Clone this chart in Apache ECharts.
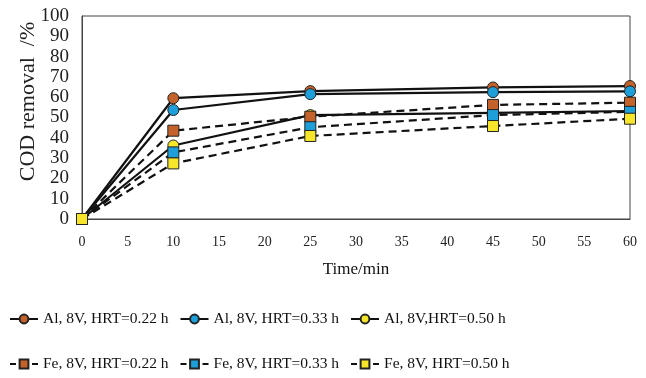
<!DOCTYPE html>
<html>
<head>
<meta charset="utf-8">
<script src="https://cdn.jsdelivr.net/npm/echarts@6/dist/echarts.min.js"></script>
<style>
  html, body { margin: 0; padding: 0; background: #fff; }
  #chart { width: 646px; height: 378px; }
</style>
</head>
<body>
<div id="chart"></div>
<script>
// Sampling times (min)
const times = [0, 10, 25, 45, 60];

// COD removal (%) for each electrode / retention time
const alHrt022 = [0, 59.5, 63, 64.8, 65.5];
const alHrt033 = [0, 53.7, 61.5, 62.5, 62.9];
const alHrt050 = [0, 36.2, 51.2, 52.3, 53.2];
const feHrt022 = [0, 43.5, 50.4, 56.2, 57.3];
const feHrt033 = [0, 32.8, 45.2, 51.2, 52.8];
const feHrt050 = [0, 27.4, 40.9, 45.8, 49.4];

const seriesNames = [
  'Al, 8V, HRT=0.22 h', 'Al, 8V, HRT=0.33 h', 'Al, 8V,HRT=0.50 h',
  'Fe, 8V, HRT=0.22 h', 'Fe, 8V, HRT=0.33 h', 'Fe, 8V, HRT=0.50 h'
];

const ORANGE = '#c4622b';
const BLUE = '#1f9fd9';
const YELLOW = '#f6e52a';
const FONT = '"Liberation Serif", "Times New Roman", serif';

function pairs(vals) {
  return times.map((t, i) => [t, vals[i]]);
}

function makeSeries(name, vals, color, dashed) {
  return {
    name: name,
    type: 'line',
    data: pairs(vals),
    symbol: dashed ? 'rect' : 'circle',
    symbolSize: 11,
    lineStyle: {
      color: '#111',
      width: 2.2,
      type: dashed ? [8, 5] : 'solid'
    },
    itemStyle: {
      color: color,
      borderColor: '#222',
      borderWidth: 1
    },
    emphasis: { disabled: true },
    animation: false
  };
}

const chart = echarts.init(document.getElementById('chart'), null, { renderer: 'canvas' });

const legendText = { fontFamily: FONT, fontSize: 15.5, color: '#111' };

chart.setOption({
  backgroundColor: '#fff',
  animation: false,
  grid: {
    left: 82, right: 16, top: 16, bottom: 159,
    show: true, borderColor: '#444', borderWidth: 1
  },
  legend: [
    {
      data: seriesNames.slice(0, 3),
      left: 4, top: 306,
      itemWidth: 28, itemHeight: 11, itemGap: 11,
      textStyle: legendText
    },
    {
      data: seriesNames.slice(3),
      left: 4, top: 351,
      itemWidth: 28, itemHeight: 11, itemGap: 11,
      lineStyle: { type: [6, 16] },
      textStyle: legendText
    }
  ],
  xAxis: {
    type: 'value',
    min: 0, max: 60, interval: 5,
    name: 'Time/min',
    nameLocation: 'middle',
    nameGap: 42,
    nameMoveOverlap: false,
    nameTextStyle: { fontFamily: FONT, fontSize: 17, color: '#111' },
    axisLine: { show: true, lineStyle: { color: '#444', width: 1 } },
    axisTick: { show: false },
    splitLine: { show: false },
    axisLabel: { fontFamily: FONT, fontSize: 14, color: '#222', margin: 16 }
  },
  yAxis: {
    type: 'value',
    min: 0, max: 100, interval: 10,
    name: 'COD removal  /%',
    nameLocation: 'middle',
    nameGap: 43,
    nameMoveOverlap: false,
    nameTextStyle: { fontFamily: FONT, fontSize: 22, color: '#222', padding: [0, 0, 0, 32] },
    axisLine: { show: true, lineStyle: { color: '#444', width: 1 } },
    axisTick: { show: false },
    splitLine: { show: false },
    axisLabel: { fontFamily: FONT, fontSize: 19, color: '#222', margin: 13 }
  },
  series: [
    makeSeries(seriesNames[0], alHrt022, ORANGE, false),
    makeSeries(seriesNames[1], alHrt033, BLUE, false),
    makeSeries(seriesNames[2], alHrt050, YELLOW, false),
    makeSeries(seriesNames[3], feHrt022, ORANGE, true),
    makeSeries(seriesNames[4], feHrt033, BLUE, true),
    makeSeries(seriesNames[5], feHrt050, YELLOW, true)
  ]
});
</script>
</body>
</html>
